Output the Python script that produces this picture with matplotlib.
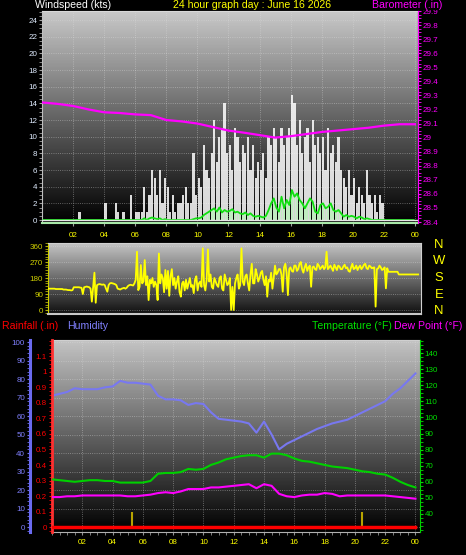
import numpy as np
import matplotlib.pyplot as plt
from matplotlib.colors import LinearSegmentedColormap
from matplotlib.ticker import MultipleLocator

plt.rcParams['font.family'] = ['Liberation Sans', 'DejaVu Sans']

W, H = 466, 555

hour_ticks = [2, 4, 6, 8, 10, 12, 14, 16, 18, 20, 22, 24]
hour_labels = ['02', '04', '06', '08', '10', '12', '14', '16', '18', '20', '22', '00']

# wind gusts, 10 minute samples (kts), one row per hour
gust_kts = [
    0, 0, 0, 0, 0, 0,
    0, 0, 0, 0, 0, 0,
    0, 0, 1, 0, 0, 0,
    0, 0, 0, 0, 0, 0,
    2, 0, 0, 0, 2, 1,
    0, 1, 0, 0, 3, 0,
    1, 1, 1, 4, 1, 3,
    6, 5, 3, 6, 2, 5,
    4, 1, 3, 1, 2, 2,
    3, 4, 2, 2, 8, 3,
    5, 4, 9, 6, 5, 8,
    12, 7, 10, 11, 14, 8,
    9, 6, 11, 10, 7, 9,
    8, 10, 6, 9, 5, 7,
    6, 8, 5, 10, 9, 11,
    10, 7, 11, 9, 10, 11,
    15, 14, 9, 12, 8, 10,
    11, 7, 12, 9, 10, 8,
    10, 6, 11, 8, 9, 7,
    10, 6, 5, 4, 6, 3,
    5, 2, 4, 3, 2, 6,
    3, 2, 3, 1, 3, 2,
    0, 0, 0, 0, 0, 0,
    0, 0, 0, 0, 0, 0,
]

# average wind, 10 minute samples (kts)
avg_kts = [
    0, 0, 0, 0, 0, 0,
    0, 0, 0, 0, 0, 0,
    0, 0, 0, 0, 0, 0,
    0, 0, 0, 0, 0, 0,
    0, 0, 0, 0, 0, 0,
    0, 0, 0, 0, 0, 0,
    0, 0, 0, 0.2, 0, 0.2,
    0.3, 0.2, 0.1, 0.2, 0, 0.1,
    0, 0, 0, 0, 0, 0,
    0, 0, 0, 0, 0.1, 0.2,
    0.2, 0.3, 0.6, 0.8, 1.0, 1.2,
    1.4, 1.0, 1.5, 0.9, 1.2, 1.0,
    1.1, 1.3, 0.9, 1.0, 0.8, 0.7,
    0.9, 0.6, 0.8, 0.5, 0.4, 0.5,
    0.4, 0.3, 0.5, 1.2, 2.0, 2.6,
    1.5, 1.0, 2.8, 1.4, 2.4, 1.8,
    3.6, 2.8, 3.2, 2.4, 2.0, 1.4,
    2.0, 2.6, 2.2, 1.0, 0.8, 1.8,
    2.0, 1.4, 1.6, 2.0, 1.2, 1.0,
    1.2, 0.8, 0.4, 0.6, 0.4, 0.5,
    0.4, 0.2, 0.4, 0.3, 0.1, 0.2,
    0.1, 0, 0, 0, 0, 0,
    0, 0, 0, 0, 0, 0,
    0, 0, 0, 0, 0, 0,
]

# wind direction, 5 minute samples (degrees), one row per hour
dir_deg = [
    120, 120, 120, 120, 120, 120, 118, 118, 118, 118, 118, 118,
    115, 115, 115, 113, 112, 112, 110, 112, 128, 128, 128, 128,
    128, 126, 125, 90, 128, 130, 132, 130, 128, 120, 47, 130,
    210, 41, 140, 144, 146, 144, 142, 144, 140, 120, 103, 140,
    150, 152, 150, 148, 145, 140, 120, 118, 115, 120, 122, 125,
    120, 125, 135, 140, 142, 140, 138, 150, 170, 328, 112, 130,
    253, 150, 160, 281, 140, 190, 56, 170, 150, 180, 130, 160,
    140, 56, 318, 150, 200, 180, 100, 225, 120, 220, 80, 190,
    230, 140, 180, 120, 160, 190, 100, 75, 150, 160, 110, 170,
    120, 150, 180, 130, 140, 95, 170, 190, 110, 150, 160, 130,
    347, 140, 110, 170, 341, 160, 200, 130, 120, 180, 160, 140,
    130, 180, 190, 120, 110, 200, 170, 140, 150, 180, 0, 130,
    0, 150, 180, 200, 120, 140, 347, 160, 140, 190, 200, 150,
    110, 200, 260, 150, 150, 230, 200, 160, 180, 210, 220, 170,
    140, 190, 75, 170, 160, 210, 120, 180, 250, 200, 210, 230,
    230, 200, 103, 240, 260, 210, 84, 230, 240, 220, 215, 250,
    250, 220, 230, 260, 270, 230, 210, 240, 260, 220, 240, 250,
    131, 240, 245, 230, 225, 260, 250, 230, 240, 250, 230, 240,
    328, 230, 240, 250, 235, 220, 255, 240, 225, 250, 245, 230,
    230, 245, 255, 235, 240, 220, 215, 240, 260, 230, 235, 250,
    225, 240, 250, 230, 240, 255, 260, 235, 230, 250, 245, 235,
    238, 240, 19, 230, 234, 250, 240, 225, 230, 240, 122, 235,
    215, 215, 215, 215, 215, 215, 215, 215, 200, 200, 200, 200,
    200, 200, 200, 200, 200, 200, 200, 200, 200, 200, 200, 200,
]

# barometer, hourly (inHg)
baro_in = [29.25, 29.24, 29.225, 29.20, 29.18, 29.175, 29.165, 29.16, 29.125,
           29.115, 29.10, 29.075, 29.05, 29.035, 29.018, 29.0, 29.01, 29.025,
           29.04, 29.05, 29.06, 29.07, 29.085, 29.095, 29.095]

# half-hourly humidity (%), temperature and dew point (F)
humidity = [71, 72, 73, 75, 74.5, 74.5, 74.5, 75.5, 76, 79, 78, 78, 77.5, 77,
            71, 69, 69, 68.5, 66, 67, 66.5, 62, 58.5, 58, 57.5, 57, 56, 51,
            57, 50, 42, 45, 47, 49, 51, 53, 54.5, 56, 57, 58, 60, 62, 64, 66,
            68, 72, 75, 79, 83]
temp_f = [61.5, 61, 60.5, 60, 60.5, 61, 61, 60.5, 60.5, 59.5, 59.5, 59.5, 59.5,
          60.5, 65, 65.5, 65.5, 66, 68, 67.5, 68, 70.5, 72, 74, 75, 76, 76.5,
          76.5, 75, 77.5, 77.5, 76.5, 74.5, 73, 72.5, 71.5, 70.5, 69.5, 69,
          68.5, 67.5, 66.5, 66, 65, 64.5, 62.5, 60, 58, 56.5]
dew_f = [50.5, 50.5, 51, 51, 51.5, 51.5, 51.5, 51.5, 51.5, 51.5, 51, 51, 51.5,
         52, 53, 53.5, 53, 54, 55.5, 55.5, 55.5, 56.5, 56.5, 57, 57.5, 58, 58.5,
         56, 58.5, 57.5, 52.5, 51, 50.5, 51.5, 52, 52, 53, 52.5, 51, 51.5, 51.5,
         51.5, 51.5, 51.5, 51.5, 51, 50.5, 50, 49.5]

rain_hours = [0, 24]
rain_in = [0, 0]
sun_hours = [5.25, 20.5]

t10 = np.arange(len(gust_kts)) / 6
t5 = np.arange(len(dir_deg)) / 12
t1 = np.arange(len(baro_in))
t30 = np.arange(len(humidity)) / 2

fig = plt.figure(figsize=(W / 100, H / 100), dpi=100, facecolor='black')


def add_panel(l, t, r, b):
    return fig.add_axes([l / W, 1 - b / H, (r - l) / W, (b - t) / H])


def backdrop(ax, top, bottom):
    cmap = LinearSegmentedColormap.from_list('bg', [bottom, top])
    ax.imshow(np.linspace(1, 0, 200).reshape(-1, 1), cmap=cmap, vmin=0, vmax=1,
              aspect='auto', extent=[0, 1, 0, 1], transform=ax.transAxes, zorder=0)


def ftext(x, y, s, color, size=7.6, ha='left', **kw):
    fig.text(x / W, 1 - y / H, s, color=color, fontsize=size, ha=ha, va='center', **kw)


# ---------------- wind speed / barometer ----------------
ax1 = add_panel(42, 11, 418, 223)
backdrop(ax1, '#c8c8c8', '#000000')
ax1.bar(t10 + 1 / 12, gust_kts, width=0.14, color='white', alpha=0.85, zorder=2)
ax1.bar(t10 + 1 / 12, avg_kts, width=0.12, color='#c0ecc0', zorder=3)
ax1.plot(t10 + 1 / 12, avg_kts, color='#10e010', lw=1.3, zorder=4)
ax1.axhline(0, color='#e8e8e8', lw=1.0, zorder=5)
ax1.set_xlim(0, 24.2)
ax1.set_ylim(-0.36, 25.1)
ax1.set_yticks(range(0, 25, 2))
ax1.yaxis.set_minor_locator(MultipleLocator(0.5))
ax1.set_xticks(hour_ticks, hour_labels)
ax1.grid(True, color='#e0e0e0', ls=':', lw=0.6, alpha=0.5)
ax1.tick_params(axis='y', which='both', colors='#a0a0a0', labelcolor='#e0ecff',
                labelsize=5.8, length=2, pad=1.5)
ax1.tick_params(axis='x', colors='#a0a0a0', labelcolor='#ffff00', labelsize=5.8,
                length=2, pad=4.5)
ax1.spines['left'].set_color('#c0c0c0')
ax1.spines['top'].set_color('#d8d8d8')
ax1.spines['bottom'].set_color('#a8e8a8')
ax1.spines['bottom'].set_linewidth(1.5)

ax1b = ax1.twinx()
ax1b.plot(t1, baro_in, color='#ff00ff', lw=1.6)
ax1b.set_ylim(28.393, 29.9)
baro_ticks = np.round(np.arange(28.4, 29.95, 0.1), 1)
ax1b.set_yticks(baro_ticks, [f'{v:g}' for v in baro_ticks])
ax1b.yaxis.set_minor_locator(MultipleLocator(0.025))
ax1b.tick_params(axis='y', which='both', colors='#ff00ff', labelsize=5.8, length=2, pad=1.5)
for s in ('left', 'top', 'bottom'):
    ax1b.spines[s].set_visible(False)
ax1b.spines['right'].set_color('#ff00ff')
ax1b.spines['right'].set_linestyle((0, (2, 1)))

ftext(35, 5.5, 'Windspeed (kts)', 'white')
ftext(252, 5.5, '24 hour graph day : June 16 2026', '#ffff00', ha='center')
ftext(372, 5, 'Barometer (.in)', '#ff00ff',
      bbox=dict(facecolor='black', edgecolor='none', pad=0.3))

# ---------------- wind direction ----------------
ax2 = add_panel(48, 243, 421, 314)
backdrop(ax2, '#c4c4c4', '#101010')
ax2.plot(t5, dir_deg, color='#ffff00', lw=1.3, zorder=3)
ax2.set_xlim(0, 24.1)
ax2.set_ylim(-22.5, 377)
ax2.set_xticks([])
ax2.set_yticks([0, 90, 180, 270, 360])
ax2.yaxis.set_minor_locator(MultipleLocator(15))
ax2.grid(True, axis='y', color='#e0e0e0', ls=':', lw=0.6, alpha=0.5)
ax2.tick_params(axis='y', which='both', colors='#b0b000', labelcolor='#d0d000',
                labelsize=5.8, length=2, pad=1.5)
ax2.spines['left'].set_color('#d0d000')
ax2.spines['left'].set_linestyle((0, (2, 1)))
ax2.spines['bottom'].set_color('#c8c8c8')
ax2.spines['bottom'].set_linewidth(1.5)
ax2.spines['top'].set_color('#d0d0d0')
ax2.spines['right'].set_color('#d0d0d0')
for letter, y in zip(['N', 'W', 'S', 'E', 'N'], [245, 261, 278, 295, 311]):
    ftext(439, y, letter, '#ffff00', size=9.4, ha='center')

# ---------------- humidity / rain / temperature ----------------
ax3 = add_panel(52, 340, 420, 532)
backdrop(ax3, '#c4c4c4', '#000000')
ax3.plot(t30, humidity, color='#7878f0', lw=1.5, zorder=3)
ax3.set_xlim(0, 24.3)
ax3.set_ylim(-2.7, 101.1)
ax3.set_yticks(range(0, 101, 10))
ax3.yaxis.set_minor_locator(MultipleLocator(2))
ax3.set_xticks(hour_ticks, hour_labels)
ax3.xaxis.set_minor_locator(MultipleLocator(0.5))
ax3.grid(True, color='#e0e0e0', ls=':', lw=0.6, alpha=0.5)
ax3.spines['left'].set_position(('outward', 22 * 0.72))
ax3.spines['left'].set_color('#6a6af0')
ax3.spines['left'].set_linewidth(2.2)
ax3.spines['right'].set_visible(False)
ax3.spines['top'].set_color('#d0d0d0')
ax3.spines['bottom'].set_color('#b0b0b0')
ax3.tick_params(axis='y', which='both', colors='#7070f0', labelcolor='#8080ff',
                labelsize=5.8, length=2, pad=1.5)
ax3.tick_params(axis='x', which='both', colors='#909090', labelcolor='#ffff00',
                labelsize=5.8, length=2, pad=3.2)

ax3r = ax3.twinx()
ax3r.yaxis.tick_left()
ax3r.plot(rain_hours, rain_in, color='#ff0000', lw=2.5, zorder=4)
ax3r.vlines(sun_hours, 0, 0.1, color='#b8a400', lw=1.5, zorder=3)
ax3r.set_ylim(-0.032, 1.206)
rain_ticks = np.round(np.arange(0, 1.15, 0.1), 1)
ax3r.set_yticks(rain_ticks, [f'{v:g}' for v in rain_ticks])
ax3r.yaxis.set_minor_locator(MultipleLocator(0.025))
ax3r.tick_params(axis='y', which='both', colors='#ff0000', labelsize=5.8, length=2, pad=1.5)
for s in ('right', 'top', 'bottom'):
    ax3r.spines[s].set_visible(False)
ax3r.spines['left'].set_color('#ff3030')
ax3r.spines['left'].set_linewidth(2)
ax3r.spines['left'].set_linestyle((0, (2, 1)))

ax3t = ax3.twinx()
ax3t.plot(t30, temp_f, color='#00d000', lw=1.5, zorder=3)
ax3t.plot(t30, dew_f, color='#ff00ff', lw=1.5, zorder=3)
ax3t.set_ylim(28.8, 148.1)
ax3t.set_yticks(range(40, 141, 10))
ax3t.yaxis.set_minor_locator(MultipleLocator(2.5))
ax3t.tick_params(axis='y', which='both', colors='#00e000', labelsize=5.8, length=2, pad=1.5)
for s in ('left', 'top', 'bottom'):
    ax3t.spines[s].set_visible(False)
ax3t.spines['right'].set_color('#00d000')
ax3t.spines['right'].set_linestyle((0, (2, 1)))

ftext(2, 326, 'Rainfall (.in)', '#ff0000')
ftext(67, 326, 'Humidity', '#8080ff')
ftext(312, 326, 'Temperature (\u00b0F)', '#00e000')
ftext(394, 326, 'Dew Point (\u00b0F)', '#ff00ff')

fig.savefig('out.png', dpi=100, facecolor='black')
